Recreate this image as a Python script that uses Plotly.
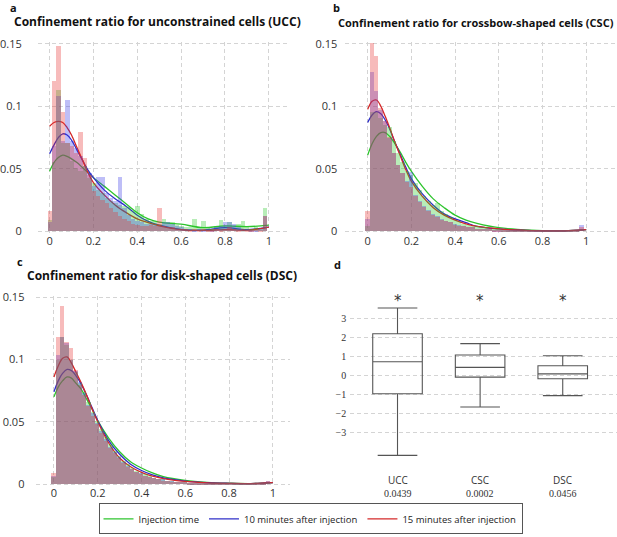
import plotly.graph_objects as go

# histogram bins (width 0.02), densities per bin
BIN_CENTERS = [round(0.02 * i, 2) for i in range(50)]

# a: unconstrained cells (UCC)
ucc_green = [0.009, 0.055, 0.113, 0.070, 0.070, 0.056, 0.050, 0.048, 0.052, 0.042,
             0.038, 0.033, 0.030, 0.026, 0.024, 0.022, 0.021, 0.020, 0.019, 0.016,
             0.020, 0.014, 0.010, 0.008, 0.008, 0.006, 0.010, 0.007, 0.007, 0.005,
             0.004, 0.003, 0.003, 0.010, 0.003, 0.008, 0.003, 0.002, 0.003, 0.009,
             0.004, 0.007, 0.003, 0.006, 0.008, 0.003, 0.002, 0.003, 0.002, 0.018]
ucc_blue = [0.007, 0.068, 0.108, 0.072, 0.105, 0.072, 0.066, 0.060, 0.052, 0.046,
            0.036, 0.043, 0.043, 0.030, 0.026, 0.024, 0.043, 0.018, 0.013, 0.010,
            0.008, 0.007, 0.006, 0.006, 0.005, 0.004, 0.007, 0.007, 0.006, 0.004,
            0.003, 0.002, 0.002, 0.001, 0.002, 0.001, 0.002, 0.001, 0.003, 0.004,
            0.007, 0.007, 0.006, 0.003, 0.002, 0.002, 0.001, 0.001, 0.002, 0.012]
ucc_red = [0.016, 0.120, 0.148, 0.095, 0.070, 0.068, 0.062, 0.079, 0.058, 0.045,
           0.032, 0.028, 0.025, 0.022, 0.018, 0.015, 0.012, 0.010, 0.008, 0.006,
           0.005, 0.004, 0.004, 0.005, 0.004, 0.018, 0.004, 0.003, 0.003, 0.002,
           0.002, 0.002, 0.001, 0.002, 0.001, 0.002, 0.001, 0.001, 0.002, 0.001,
           0.002, 0.003, 0.002, 0.001, 0.002, 0.001, 0.001, 0.002, 0.001, 0.012]

# b: crossbow-shaped cells (CSC)
csc_green = [0.004, 0.095, 0.095, 0.090, 0.085, 0.083, 0.072, 0.062, 0.055, 0.048,
             0.045, 0.038, 0.033, 0.028, 0.024, 0.021, 0.022, 0.016, 0.014, 0.011,
             0.009, 0.008, 0.006, 0.005, 0.004, 0.004, 0.003, 0.003, 0.002, 0.002,
             0.002, 0.001, 0.001, 0.001, 0.001, 0.001, 0.001, 0.001, 0.001, 0.001,
             0.001, 0.001, 0.001, 0.001, 0.001, 0.001, 0.001, 0.001, 0.001, 0.002]
csc_blue = [0.010, 0.127, 0.112, 0.097, 0.088, 0.074, 0.062, 0.053, 0.046, 0.040,
            0.047, 0.029, 0.024, 0.020, 0.017, 0.014, 0.012, 0.010, 0.008, 0.007,
            0.006, 0.005, 0.004, 0.003, 0.003, 0.002, 0.002, 0.002, 0.002, 0.001,
            0.001, 0.001, 0.001, 0.001, 0.001, 0.001, 0.001, 0.001, 0.001, 0.001,
            0.001, 0.001, 0.001, 0.001, 0.001, 0.001, 0.001, 0.001, 0.001, 0.005]
csc_red = [0.016, 0.150, 0.140, 0.098, 0.088, 0.075, 0.062, 0.053, 0.046, 0.039,
           0.035, 0.028, 0.023, 0.019, 0.016, 0.013, 0.011, 0.009, 0.008, 0.007,
           0.005, 0.004, 0.004, 0.003, 0.003, 0.002, 0.002, 0.002, 0.002, 0.001,
           0.001, 0.001, 0.001, 0.001, 0.001, 0.001, 0.001, 0.001, 0.001, 0.001,
           0.001, 0.001, 0.001, 0.001, 0.001, 0.001, 0.001, 0.001, 0.001, 0.003]

# c: disk-shaped cells (DSC)
dsc_green = [0.006, 0.100, 0.118, 0.112, 0.100, 0.090, 0.081, 0.074, 0.066, 0.058,
             0.051, 0.044, 0.038, 0.032, 0.027, 0.023, 0.019, 0.016, 0.013, 0.011,
             0.009, 0.008, 0.007, 0.005, 0.004, 0.004, 0.003, 0.003, 0.002, 0.002,
             0.002, 0.001, 0.001, 0.001, 0.001, 0.001, 0.001, 0.001, 0.001, 0.001,
             0.001, 0.001, 0.001, 0.001, 0.001, 0.001, 0.001, 0.001, 0.001, 0.002]
dsc_blue = [0.007, 0.104, 0.118, 0.113, 0.100, 0.091, 0.082, 0.073, 0.064, 0.057,
            0.049, 0.043, 0.036, 0.030, 0.026, 0.022, 0.018, 0.015, 0.012, 0.010,
            0.009, 0.007, 0.006, 0.005, 0.004, 0.004, 0.003, 0.003, 0.002, 0.002,
            0.002, 0.001, 0.001, 0.001, 0.001, 0.001, 0.001, 0.001, 0.001, 0.001,
            0.001, 0.001, 0.001, 0.001, 0.001, 0.001, 0.001, 0.001, 0.001, 0.003]
dsc_red = [0.009, 0.118, 0.143, 0.114, 0.109, 0.092, 0.080, 0.072, 0.063, 0.055,
           0.048, 0.041, 0.035, 0.029, 0.025, 0.021, 0.017, 0.014, 0.012, 0.010,
           0.008, 0.007, 0.006, 0.005, 0.004, 0.003, 0.003, 0.002, 0.002, 0.002,
           0.002, 0.001, 0.001, 0.001, 0.001, 0.001, 0.001, 0.001, 0.001, 0.001,
           0.001, 0.001, 0.001, 0.001, 0.001, 0.001, 0.001, 0.001, 0.001, 0.003]

# smoothed density curves
KDE_X = [0, 0.02, 0.04, 0.06, 0.08, 0.1, 0.125, 0.15, 0.175, 0.2, 0.25,
         0.3, 0.35, 0.4, 0.45, 0.5, 0.6, 0.7, 0.8, 0.9, 1.0]
ucc_kde_green = [0.048, 0.055, 0.059, 0.061, 0.060, 0.058, 0.055, 0.051, 0.047, 0.043, 0.036,
                 0.029, 0.022, 0.015, 0.010, 0.0075, 0.0058, 0.003, 0.0045, 0.0038, 0.005]
ucc_kde_blue = [0.062, 0.069, 0.075, 0.078, 0.077, 0.073, 0.065, 0.057, 0.049, 0.043, 0.033,
                0.026, 0.020, 0.013, 0.008, 0.005, 0.0015, 0.001, 0.003, 0.0015, 0.0035]
ucc_kde_red = [0.084, 0.087, 0.088, 0.087, 0.083, 0.077, 0.067, 0.057, 0.047, 0.039, 0.029,
               0.021, 0.015, 0.010, 0.007, 0.0045, 0.0015, 0.0008, 0.0015, 0.001, 0.0035]
csc_kde_green = [0.061, 0.070, 0.076, 0.079, 0.079, 0.076, 0.070, 0.063, 0.055, 0.048, 0.036,
                 0.026, 0.019, 0.013, 0.009, 0.0065, 0.003, 0.0015, 0.0007, 0.0005, 0.0015]
csc_kde_blue = [0.087, 0.093, 0.0957, 0.094, 0.089, 0.082, 0.071, 0.061, 0.051, 0.042, 0.030,
                0.021, 0.014, 0.010, 0.007, 0.004, 0.002, 0.001, 0.0005, 0.0005, 0.0015]
csc_kde_red = [0.0975, 0.104, 0.105, 0.100, 0.092, 0.083, 0.071, 0.060, 0.049, 0.040, 0.028,
               0.019, 0.013, 0.009, 0.006, 0.004, 0.002, 0.001, 0.0005, 0.0005, 0.0015]
dsc_kde_green = [0.070, 0.078, 0.083, 0.086, 0.085, 0.081, 0.076, 0.068, 0.060, 0.051, 0.037,
                 0.026, 0.018, 0.013, 0.009, 0.006, 0.003, 0.0015, 0.0008, 0.0005, 0.0012]
dsc_kde_blue = [0.074, 0.083, 0.089, 0.092, 0.091, 0.087, 0.080, 0.071, 0.061, 0.051, 0.035,
                0.024, 0.016, 0.011, 0.0075, 0.005, 0.0025, 0.0012, 0.0007, 0.0005, 0.0012]
dsc_kde_red = [0.086, 0.095, 0.101, 0.102, 0.097, 0.090, 0.081, 0.071, 0.060, 0.050, 0.033,
               0.021, 0.014, 0.0095, 0.0065, 0.0045, 0.0022, 0.001, 0.0006, 0.0005, 0.0012]

# d: box plot summary
BOX_CATS = ["UCC", "CSC", "DSC"]
P_VALUES = ["0.0439", "0.0002", "0.0456"]
box_low = [-4.18, -1.65, -1.05]
box_q1 = [-0.95, -0.08, -0.17]
box_median = [0.72, 0.43, 0.09]
box_q3 = [2.19, 1.08, 0.51]
box_high = [3.54, 1.67, 1.04]
STAR_Y = 3.9

SERIES = ["Injection time", "10 minutes after injection", "15 minutes after injection"]
LINE_COLORS = ["#2fc42f", "#3030c8", "#d42a2a"]
BAR_COLORS = ["rgb(40,200,40)", "rgb(60,60,230)", "rgb(230,50,50)"]

W, H = 617, 537
SANS = "Open Sans"
SERIF = "Liberation Serif"


def px_x(a, b):
    return [a / W, b / W]


def px_y(top, bottom):
    return [1 - bottom / H, 1 - top / H]


panels = [
    # (title, hists, kdes, x domain px, y domain px, x range, standoff)
    ("Confinement ratio for unconstrained cells (UCC)",
     [ucc_green, ucc_blue, ucc_red], [ucc_kde_green, ucc_kde_blue, ucc_kde_red],
     (33, 285), (36.3, 231.3), [-0.054, 1.086], 15),
    ("Confinement ratio for crossbow-shaped cells (CSC)",
     [csc_green, csc_blue, csc_red], [csc_kde_green, csc_kde_blue, csc_kde_red],
     (343, 617), (36.3, 231.3), [-0.103, 1.141], 7),
    ("Confinement ratio for disk-shaped cells (DSC)",
     [dsc_green, dsc_blue, dsc_red], [dsc_kde_green, dsc_kde_blue, dsc_kde_red],
     (31.7, 287), (296, 490.3), [-0.08, 1.077], 11),
]

fig = go.Figure()
layout = {}
Y_RANGE = [-0.001, 0.151]

for i, (title, hists, kdes, xd, yd, xr, standoff) in enumerate(panels):
    n = i + 1
    sfx = "" if n == 1 else str(n)
    ov = str(n + 4)  # overlay axes so bars sit on top of the curves
    for k in range(3):
        fig.add_trace(go.Scatter(
            x=KDE_X, y=kdes[k], mode="lines", line=dict(color=LINE_COLORS[k], width=1.3, shape="spline"),
            name=SERIES[k], legendgroup=SERIES[k], showlegend=(i == 0),
            xaxis="x" + sfx, yaxis="y" + sfx,
        ))
    for k in range(3):
        fig.add_trace(go.Bar(
            x=BIN_CENTERS, y=hists[k], width=0.02, marker=dict(color=BAR_COLORS[k], line=dict(width=0)),
            opacity=0.33, showlegend=False, hoverinfo="skip",
            xaxis="x" + ov, yaxis="y" + ov,
        ))
    axis_common = dict(
        showgrid=True, gridcolor="#d4d4d4", griddash="4px,3px", gridwidth=1,
        zeroline=False, showline=False, ticks="",
        tickfont=dict(family=SANS, size=11, color="#333"),
    )
    layout["xaxis" + sfx] = dict(
        axis_common, domain=px_x(*xd), range=xr, anchor="y" + sfx,
        tickvals=[0, 0.2, 0.4, 0.6, 0.8, 1], ticktext=["0", "0.2", "0.4", "0.6", "0.8", "1"],
    )
    layout["yaxis" + sfx] = dict(
        axis_common, domain=px_y(*yd), range=Y_RANGE, anchor="x" + sfx,
        tickvals=[0, 0.05, 0.1, 0.15], ticktext=["0", "0.05", "0.1", "0.15"],
        ticklabelstandoff=standoff,
    )
    layout["xaxis" + ov] = dict(overlaying="x" + sfx, anchor="y" + ov, range=xr, visible=False,
                                domain=px_x(*xd))
    layout["yaxis" + ov] = dict(overlaying="y" + sfx, anchor="x" + ov, range=Y_RANGE, visible=False,
                                domain=px_y(*yd))

# panel d
fig.add_trace(go.Box(
    x=[0, 1, 2], q1=box_q1, median=box_median, q3=box_q3,
    lowerfence=box_low, upperfence=box_high,
    width=0.6, whiskerwidth=0.8, fillcolor="rgba(0,0,0,0)",
    line=dict(color="#555", width=1.1), showlegend=False, hoverinfo="skip",
    xaxis="x4", yaxis="y4",
))
layout["xaxis4"] = dict(domain=px_x(348, 617), range=[-0.573, 2.657], anchor="y4",
                        showgrid=False, zeroline=False, showticklabels=False, ticks="")
layout["yaxis4"] = dict(domain=px_y(290, 470), range=[-4.716, 4.481], anchor="x4",
                        tickvals=[-3, -2, -1, 0, 1, 2, 3],
                        showgrid=True, gridcolor="#d4d4d4", griddash="4px,3px", zeroline=False,
                        ticks="", ticklabelstandoff=3,
                        tickfont=dict(family=SERIF, size=10, color="#333"))

annotations = []
title_pos = [(153.5, 15, "center", 12), (616, 15.5, "right", 11), (158, 275, "center", 12)]
for (title, *_), (tx, ty, anchor, fs) in zip(panels, title_pos):
    annotations.append(dict(
        text="<b>" + title + "</b>", x=tx / W, y=1 - ty / H, xref="paper", yref="paper",
        xanchor=anchor, yanchor="middle", showarrow=False,
        font=dict(family=SANS, size=fs, color="#111"),
    ))
for lab, lx, ly in [("a", 3, 0), ("b", 329, 1), ("c", 10, 261), ("d", 330, 264)]:
    annotations.append(dict(
        text="<b>" + lab + "</b>", x=lx / W, y=1 - ly / H, xref="paper", yref="paper",
        xanchor="left", yanchor="middle", showarrow=False,
        font=dict(family=SANS, size=11, color="#111"),
    ))
for j, (cat, pv) in enumerate(zip(BOX_CATS, P_VALUES)):
    annotations.append(dict(
        text="*", x=j, y=STAR_Y, xref="x4", yref="y4", showarrow=False,
        font=dict(family="DejaVu Sans", size=15, color="#333"),
    ))
    annotations.append(dict(
        text=cat, x=j, y=1 - 485 / H, xref="x4", yref="paper", showarrow=False,
        yanchor="middle", font=dict(family=SANS, size=10, color="#333"),
    ))
    annotations.append(dict(
        text=pv, x=j, y=1 - 498.5 / H, xref="x4", yref="paper", showarrow=False,
        yanchor="middle", font=dict(family=SERIF, size=10, color="#333"),
    ))

fig.update_layout(
    **layout,
    width=W, height=H,
    margin=dict(l=0, r=0, t=0, b=0),
    paper_bgcolor="white", plot_bgcolor="white",
    barmode="overlay", bargap=0,
    annotations=annotations,
    legend=dict(
        orientation="h", x=308 / W, xanchor="center", y=1 - 524.5 / H, yanchor="middle",
        bordercolor="#555", borderwidth=1, bgcolor="white",
        font=dict(family=SANS, size=9.5, color="#222"),
        itemwidth=30, tracegroupgap=0,
    ),
)

# the page's default body margin would push the fixed-size figure off the window
fig.write_html(
    "out.html",
    config={"displayModeBar": False},
    post_script="document.body.style.margin='0';document.body.style.overflow='hidden';",
)
